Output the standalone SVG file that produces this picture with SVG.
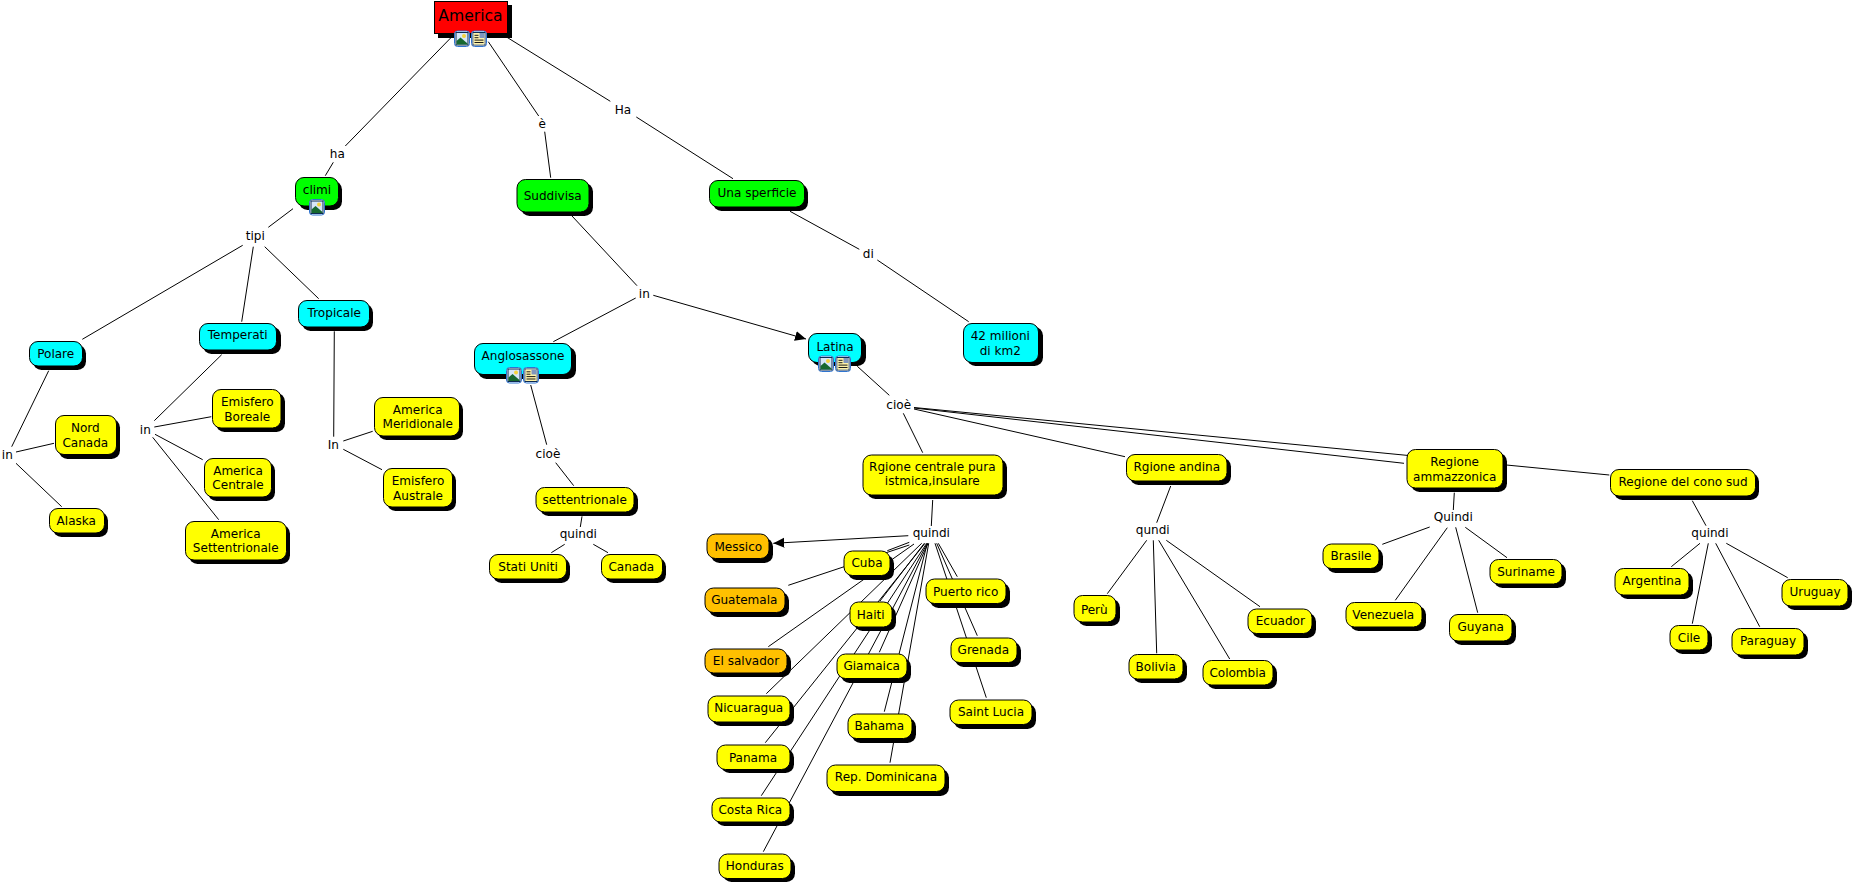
<svg xmlns="http://www.w3.org/2000/svg" xmlns:xlink="http://www.w3.org/1999/xlink" width="1855" height="885" viewBox="0 0 1855 885">
<style>
text{font-family:"DejaVu Sans",Verdana,sans-serif;font-size:12.05px;fill:#000;text-anchor:middle}
.t{font-size:15.6px}
.c line{stroke:#000;stroke-width:1;fill:none}
.s{fill:#000;rx:8.5px}
.b{stroke:#000;stroke-width:1;rx:8.5px}
#n-america rect{rx:0}
.r{fill:#f00}.g{fill:#0f0}.a{fill:#0ff}.y{fill:#ff0}.o{fill:#ffc000}
</style>
<defs>
<marker id="ah" markerUnits="userSpaceOnUse" markerWidth="12" markerHeight="12" refX="11" refY="5.5" orient="auto"><path d="M0,0.5L11,5.5L0,10.5z" fill="#000"/></marker>
<g id="iconbase"><rect x="0.5" y="0.5" width="15" height="15.5" rx="3" fill="#fff" stroke="#2f74d0"/><rect x="2" y="2" width="12" height="12.5" fill="#d6e6f8" stroke="#0d2a52"/></g>
<g id="icon-img"><use xlink:href="#iconbase"/><circle cx="10" cy="5.6" r="2" fill="#f5d33c"/><path d="M2.5,14L2.5,10.5L6.5,7L13.5,13L13.5,14z" fill="#17682f"/></g>
<g id="icon-doc"><use xlink:href="#iconbase"/><rect x="2.5" y="2.5" width="11" height="11.5" fill="#fff3a8"/><rect x="8.5" y="2.5" width="5" height="5" fill="#7f96bf"/><path d="M3.5,4.8h4M3.5,7.2h4M3.5,9.6h9M3.5,12h9" stroke="#1a1a1a" stroke-width="1"/></g>
</defs>
<rect width="1855" height="885" fill="#fff"/>
<g id="connectors" class="c">
<line x1="451.3" y1="37.3" x2="345.3" y2="146"/>
<line x1="333.3" y1="162.3" x2="325.3" y2="175.7"/>
<line x1="293" y1="208.7" x2="268.3" y2="227.3"/>
<line x1="242.7" y1="245.3" x2="82.3" y2="339.3"/>
<line x1="253.3" y1="246.7" x2="241.7" y2="321.7"/>
<line x1="264.7" y1="246.7" x2="318.7" y2="298.7"/>
<line x1="48.7" y1="370.7" x2="11.7" y2="446.7"/>
<line x1="16" y1="452" x2="54" y2="443.3"/>
<line x1="16" y1="463.3" x2="61.7" y2="506.7"/>
<line x1="221.7" y1="354.7" x2="154.3" y2="420.7"/>
<line x1="154.3" y1="427" x2="211.3" y2="416.7"/>
<line x1="155" y1="434.3" x2="202.7" y2="459.7"/>
<line x1="152.7" y1="437.3" x2="218.7" y2="519.7"/>
<line x1="334.3" y1="331.3" x2="333.7" y2="436.7"/>
<line x1="343.3" y1="441" x2="372.7" y2="431.3"/>
<line x1="343.3" y1="449.3" x2="382" y2="469.7"/>
<line x1="488.3" y1="41.7" x2="538.7" y2="116"/>
<line x1="544.7" y1="131.7" x2="550.7" y2="177.7"/>
<line x1="506" y1="36.7" x2="610.3" y2="101.3"/>
<line x1="636.3" y1="117" x2="733" y2="178.7"/>
<line x1="790" y1="211.3" x2="859.3" y2="249.3"/>
<line x1="877.3" y1="260" x2="968.7" y2="321.7"/>
<line x1="572" y1="216" x2="637" y2="285.7"/>
<line x1="635.7" y1="298" x2="553.3" y2="341.7"/>
<line x1="653.3" y1="295.3" x2="806" y2="339" marker-end="url(#ah)"/>
<line x1="530.7" y1="385" x2="546.7" y2="444.7"/>
<line x1="555.7" y1="462.7" x2="573.7" y2="485.7"/>
<line x1="582" y1="516.3" x2="580.3" y2="527"/>
<line x1="564.7" y1="544.3" x2="551.3" y2="552.7"/>
<line x1="593.3" y1="544.3" x2="608" y2="552.7"/>
<line x1="857.3" y1="366.3" x2="889.3" y2="395.3"/>
<line x1="903.3" y1="413.3" x2="922.7" y2="452.7"/>
<line x1="914" y1="409" x2="1125" y2="456.7"/>
<line x1="914" y1="407.5" x2="1609.3" y2="475"/>
<line x1="914" y1="408" x2="1404" y2="463.3"/>
<line x1="932.7" y1="500" x2="931.3" y2="526"/>
<line x1="908.3" y1="535.7" x2="773.3" y2="543.3" marker-end="url(#ah)"/>
<line x1="909.3" y1="545" x2="788.3" y2="585.3"/>
<line x1="909.3" y1="542.3" x2="887.3" y2="550.7"/>
<line x1="914" y1="544" x2="768.3" y2="646.7"/>
<line x1="921.7" y1="543.3" x2="766.3" y2="693.7"/>
<line x1="925" y1="543.3" x2="765.3" y2="742.7"/>
<line x1="926.7" y1="543.3" x2="761.3" y2="795.7"/>
<line x1="927.3" y1="543.3" x2="763.3" y2="851.7"/>
<line x1="924.3" y1="543.3" x2="880" y2="601"/>
<line x1="928" y1="543.3" x2="879.3" y2="652.3"/>
<line x1="927.3" y1="543.3" x2="884.3" y2="711.7"/>
<line x1="928.7" y1="543.3" x2="890" y2="762.7"/>
<line x1="938.3" y1="543.3" x2="957.3" y2="576.7"/>
<line x1="936.7" y1="543.3" x2="977.3" y2="635.7"/>
<line x1="935" y1="543.3" x2="986.3" y2="697.7"/>
<line x1="1170.7" y1="486" x2="1156.7" y2="522.7"/>
<line x1="1146.7" y1="540.3" x2="1107.3" y2="593.7"/>
<line x1="1153.3" y1="540.3" x2="1156.7" y2="653.3"/>
<line x1="1158.7" y1="540.3" x2="1229.7" y2="659"/>
<line x1="1166.3" y1="540.3" x2="1260" y2="606.7"/>
<line x1="1454.3" y1="492.7" x2="1453.3" y2="510"/>
<line x1="1429.7" y1="527" x2="1382.3" y2="544.3"/>
<line x1="1447.3" y1="527.7" x2="1395.3" y2="600.3"/>
<line x1="1455.7" y1="527.3" x2="1477.7" y2="612.7"/>
<line x1="1465.3" y1="527.3" x2="1507" y2="557.7"/>
<line x1="1692.3" y1="500.7" x2="1706" y2="525.7"/>
<line x1="1700" y1="543.3" x2="1671.3" y2="566.7"/>
<line x1="1708.3" y1="543.3" x2="1692.3" y2="623.7"/>
<line x1="1715.7" y1="543.3" x2="1759.7" y2="626.7"/>
<line x1="1726.3" y1="543.3" x2="1787.7" y2="577.7"/>
</g>
<g id="labels">
<text x="337.3" y="157.7">ha</text>
<text x="255.3" y="240">tipi</text>
<text x="7.3" y="458.7">in</text>
<text x="145.3" y="433.7">in</text>
<text x="333.3" y="448.7">In</text>
<text x="542.3" y="128">è</text>
<text x="623" y="113.7">Ha</text>
<text x="868.3" y="257.7">di</text>
<text x="644.3" y="297.7">in</text>
<text x="548" y="457.7">cioè</text>
<text x="578.3" y="538">quindi</text>
<text x="898.7" y="409">cioè</text>
<text x="931.3" y="537">quindi</text>
<text x="1152.7" y="534">qundi</text>
<text x="1453.3" y="521">Quindi</text>
<text x="1710" y="537.3">quindi</text>
</g>
<g id="n-america"><rect class="s" x="438" y="5" width="74" height="33"/><rect class="b r" x="434.5" y="1.5" width="73" height="32"/><text class="t" x="470.5" y="21">America</text><use xlink:href="#icon-img" x="454" y="30.5"/><use xlink:href="#icon-doc" x="471" y="30.5"/></g>
<g id="n-climi"><rect class="s" x="299" y="181" width="43" height="29"/><rect class="b g" x="295.5" y="177.5" width="43" height="28.5"/><text x="317" y="194.3">climi</text><use xlink:href="#icon-img" x="309" y="199"/></g>
<g id="n-suddivisa"><rect class="s" x="521" y="183" width="72" height="33"/><rect class="b g" x="517" y="179.5" width="72" height="32.5"/><text x="552.7" y="200">Suddivisa</text></g>
<g id="n-sperficie"><rect class="s" x="713" y="184" width="95" height="27"/><rect class="b g" x="709.5" y="180.5" width="95" height="26.5"/><text x="757" y="197">Una sperficie</text></g>
<g id="n-42"><rect class="s" x="967" y="327" width="76" height="39"/><rect class="b a" x="963.5" y="323.5" width="75" height="39"/><text x="1000.3" y="340">42 milioni</text><text x="1000.3" y="355">di km2</text></g>
<g id="n-polare"><rect class="s" x="33" y="345" width="53" height="25"/><rect class="b a" x="29.5" y="341.5" width="53" height="24.5"/><text x="55.7" y="357.7">Polare</text></g>
<g id="n-temperati"><rect class="s" x="203" y="327" width="78" height="27"/><rect class="b a" x="199.5" y="323.5" width="77" height="26.5"/><text x="237.7" y="339.3">Temperati</text></g>
<g id="n-tropicale"><rect class="s" x="302" y="304" width="71" height="27"/><rect class="b a" x="298.5" y="300.5" width="71" height="26.5"/><text x="334.3" y="316.7">Tropicale</text></g>
<g id="n-anglo"><rect class="s" x="478" y="347" width="98" height="32"/><rect class="b a" x="474.5" y="343.5" width="97" height="31"/><text x="523" y="360">Anglosassone</text><use xlink:href="#icon-img" x="506" y="367"/><use xlink:href="#icon-doc" x="523" y="367"/></g>
<g id="n-latina"><rect class="s" x="812" y="337" width="54" height="29"/><rect class="b a" x="808.5" y="333.5" width="53" height="29"/><text x="835" y="351">Latina</text><use xlink:href="#icon-img" x="818" y="355.5"/><use xlink:href="#icon-doc" x="835" y="355.5"/></g>
<g id="n-nord"><rect class="s" x="59" y="419" width="61" height="40"/><rect class="b y" x="55.5" y="415.5" width="61" height="39"/><text x="85.3" y="432">Nord</text><text x="85.3" y="446.7">Canada</text></g>
<g id="n-alaska"><rect class="s" x="53" y="512" width="55" height="25"/><rect class="b y" x="49.5" y="508.5" width="55" height="24.5"/><text x="76.3" y="525">Alaska</text></g>
<g id="n-boreale"><rect class="s" x="216" y="393" width="69" height="39"/><rect class="b y" x="212.5" y="389.5" width="68.5" height="38.5"/><text x="247.3" y="406">Emisfero</text><text x="247.3" y="420.7">Boreale</text></g>
<g id="n-centrale"><rect class="s" x="208" y="462" width="67" height="39"/><rect class="b y" x="204.5" y="458.5" width="67" height="38.5"/><text x="238" y="474.7">America</text><text x="238" y="489.3">Centrale</text></g>
<g id="n-settentrionale-am"><rect class="s" x="189" y="525" width="101" height="39"/><rect class="b y" x="185.5" y="521.5" width="101" height="38.5"/><text x="235.7" y="537.7">America</text><text x="235.7" y="552.3">Settentrionale</text></g>
<g id="n-meridionale"><rect class="s" x="378" y="401" width="85" height="39"/><rect class="b y" x="374.5" y="397.5" width="85" height="38.5"/><text x="417.7" y="413.7">America</text><text x="417.7" y="428.3">Meridionale</text></g>
<g id="n-australe"><rect class="s" x="387" y="472" width="69" height="39"/><rect class="b y" x="383.5" y="468.5" width="69" height="38.5"/><text x="418" y="485">Emisfero</text><text x="418" y="499.7">Australe</text></g>
<g id="n-settentrionale"><rect class="s" x="540" y="491" width="98" height="25"/><rect class="b y" x="536" y="487.5" width="98" height="24.5"/><text x="584.7" y="504">settentrionale</text></g>
<g id="n-stati"><rect class="s" x="493" y="558" width="77" height="25"/><rect class="b y" x="489.5" y="554.5" width="77" height="24.5"/><text x="528" y="571">Stati Uniti</text></g>
<g id="n-canada"><rect class="s" x="605" y="558" width="61" height="25"/><rect class="b y" x="601.5" y="554.5" width="61" height="24.5"/><text x="631.3" y="571">Canada</text></g>
<g id="n-centrale-reg"><rect class="s" x="867" y="459" width="140" height="40"/><rect class="b y" x="863" y="455" width="140" height="40"/><text x="932.3" y="470.7">Rgione centrale pura</text><text x="932.3" y="485.3">istmica,insulare</text></g>
<g id="n-andina"><rect class="s" x="1130" y="458" width="101" height="27"/><rect class="b y" x="1126.5" y="454.5" width="100.5" height="26.5"/><text x="1176.7" y="471">Rgione andina</text></g>
<g id="n-amm"><rect class="s" x="1411" y="453" width="96" height="39"/><rect class="b y" x="1407" y="449.5" width="96" height="38.5"/><text x="1454.7" y="466">Regione</text><text x="1454.7" y="480.7">ammazzonica</text></g>
<g id="n-cono"><rect class="s" x="1614" y="473" width="145" height="27"/><rect class="b y" x="1610.5" y="469.5" width="145" height="26.5"/><text x="1683" y="486">Regione del cono sud</text></g>
<g id="n-messico"><rect class="s" x="711" y="538" width="62" height="25"/><rect class="b o" x="707" y="534" width="62" height="24.5"/><text x="738.3" y="550.7">Messico</text></g>
<g id="n-cuba"><rect class="s" x="848" y="555" width="46" height="25"/><rect class="b y" x="844" y="551" width="46" height="24.5"/><text x="867" y="567">Cuba</text></g>
<g id="n-guatemala"><rect class="s" x="709" y="592" width="80" height="25"/><rect class="b o" x="705" y="588" width="80" height="24.5"/><text x="744.3" y="604">Guatemala</text></g>
<g id="n-salvador"><rect class="s" x="709" y="653" width="82" height="24"/><rect class="b o" x="705" y="649" width="82" height="24"/><text x="746" y="665.3">El salvador</text></g>
<g id="n-haiti"><rect class="s" x="854" y="606" width="42" height="25"/><rect class="b y" x="850" y="602" width="42" height="25"/><text x="870.7" y="619">Haiti</text></g>
<g id="n-giamaica"><rect class="s" x="841" y="658" width="70" height="25"/><rect class="b y" x="837" y="654" width="70" height="24.5"/><text x="871.7" y="670">Giamaica</text></g>
<g id="n-puerto"><rect class="s" x="930" y="583" width="80" height="25"/><rect class="b y" x="926" y="579" width="80" height="24.5"/><text x="965.7" y="595.7">Puerto rico</text></g>
<g id="n-grenada"><rect class="s" x="955" y="642" width="66" height="25"/><rect class="b y" x="951" y="638" width="66" height="24.5"/><text x="983.3" y="654">Grenada</text></g>
<g id="n-lucia"><rect class="s" x="954" y="704" width="82" height="25"/><rect class="b y" x="950" y="700" width="82" height="24.5"/><text x="991" y="715.7">Saint Lucia</text></g>
<g id="n-bahama"><rect class="s" x="852" y="718" width="64" height="25"/><rect class="b y" x="848" y="714" width="64" height="24.5"/><text x="879.3" y="730">Bahama</text></g>
<g id="n-rep"><rect class="s" x="831" y="769" width="118" height="27"/><rect class="b y" x="827" y="765" width="118" height="26.5"/><text x="886" y="780.7">Rep. Dominicana</text></g>
<g id="n-nicuaragua"><rect class="s" x="712" y="700" width="82" height="26"/><rect class="b y" x="708" y="696" width="82" height="26"/><text x="748.7" y="711.7">Nicuaragua</text></g>
<g id="n-panama"><rect class="s" x="721" y="749" width="73" height="24"/><rect class="b y" x="717" y="745" width="73" height="24.5"/><text x="753" y="761.7">Panama</text></g>
<g id="n-costa"><rect class="s" x="716" y="802" width="78" height="24"/><rect class="b y" x="712" y="798" width="78" height="24"/><text x="750.3" y="813.7">Costa Rica</text></g>
<g id="n-honduras"><rect class="s" x="723" y="858" width="72" height="24"/><rect class="b y" x="719" y="854" width="72" height="24.5"/><text x="754.7" y="870">Honduras</text></g>
<g id="n-peru"><rect class="s" x="1078" y="599" width="42" height="27"/><rect class="b y" x="1074" y="595.5" width="42" height="26.5"/><text x="1094.3" y="613.7">Perù</text></g>
<g id="n-bolivia"><rect class="s" x="1133" y="658" width="54" height="25"/><rect class="b y" x="1129" y="654.5" width="54" height="24.5"/><text x="1155.7" y="671">Bolivia</text></g>
<g id="n-colombia"><rect class="s" x="1207" y="664" width="70" height="25"/><rect class="b y" x="1203" y="660.5" width="70" height="24.5"/><text x="1237.7" y="677">Colombia</text></g>
<g id="n-ecuador"><rect class="s" x="1252" y="613" width="64" height="25"/><rect class="b y" x="1248" y="609" width="64" height="24.5"/><text x="1280.3" y="625.3">Ecuador</text></g>
<g id="n-brasile"><rect class="s" x="1327" y="548" width="56" height="25"/><rect class="b y" x="1323" y="544" width="56" height="24.5"/><text x="1351" y="560">Brasile</text></g>
<g id="n-venezuela"><rect class="s" x="1350" y="606" width="76" height="25"/><rect class="b y" x="1346" y="602.5" width="76" height="24.5"/><text x="1383.3" y="619">Venezuela</text></g>
<g id="n-guyana"><rect class="s" x="1453" y="618" width="63" height="27"/><rect class="b y" x="1449.5" y="614.5" width="62.5" height="26.5"/><text x="1480.7" y="631">Guyana</text></g>
<g id="n-suriname"><rect class="s" x="1494" y="563" width="72" height="25"/><rect class="b y" x="1490" y="559.5" width="72" height="24.5"/><text x="1526" y="575.7">Suriname</text></g>
<g id="n-argentina"><rect class="s" x="1619" y="572" width="74" height="27"/><rect class="b y" x="1615" y="568.5" width="74" height="26.5"/><text x="1652" y="585">Argentina</text></g>
<g id="n-cile"><rect class="s" x="1674" y="629" width="38" height="25"/><rect class="b y" x="1670" y="625.5" width="38" height="24.5"/><text x="1689" y="642">Cile</text></g>
<g id="n-paraguay"><rect class="s" x="1736" y="632" width="72" height="27"/><rect class="b y" x="1732" y="628.5" width="72" height="26.5"/><text x="1768" y="645">Paraguay</text></g>
<g id="n-uruguay"><rect class="s" x="1786" y="583" width="66" height="27"/><rect class="b y" x="1782" y="579.5" width="66" height="26.5"/><text x="1815" y="596">Uruguay</text></g>
</svg>
